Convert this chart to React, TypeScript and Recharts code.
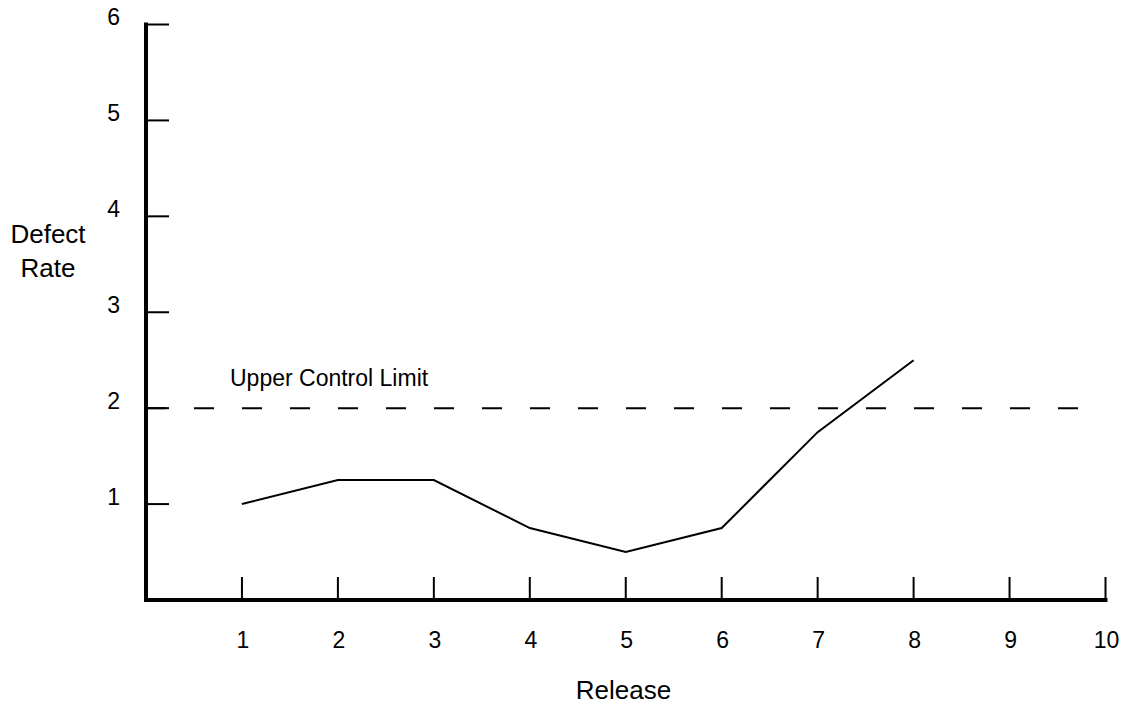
import React from "react";
import { LineChart, Line, XAxis, YAxis, ReferenceLine, Label } from "recharts";

const releases = [1, 2, 3, 4, 5, 6, 7, 8];
const defectRates = [1, 1.25, 1.25, 0.75, 0.5, 0.75, 1.75, 2.5];
const xTicks = [1, 2, 3, 4, 5, 6, 7, 8, 9, 10];
const yTicks = [1, 2, 3, 4, 5, 6];
const UCL = 2;
const UCL_START = 0;
const UCL_END = 9.73;
const UCL_LABEL = "Upper Control Limit";
const X_LABEL = "Release";
const Y_LABEL_LINES = ["Defect", "Rate"];

const FONT = "'Liberation Sans', Arial, Helvetica, sans-serif";

const data = releases.map((r, i) => ({ release: r, rate: defectRates[i] }));

const YTick = (props: any) => {
  const { x, y, payload } = props;
  return (
    <g>
      <line x1={x} y1={y} x2={x + 23} y2={y} stroke="#000" strokeWidth={2} />
      <text x={x - 26} y={y + 0.5} textAnchor="end" fontSize={23} fill="#000" fontFamily={FONT}>
        {payload.value}
      </text>
    </g>
  );
};

const XTick = (props: any) => {
  const { x, y, payload } = props;
  return (
    <g>
      <line x1={x} y1={y} x2={x} y2={y - 23} stroke="#000" strokeWidth={2} />
      <text x={x + 1} y={y + 48} textAnchor="middle" fontSize={23} fill="#000" fontFamily={FONT}>
        {payload.value}
      </text>
    </g>
  );
};

const YLabel = () => (
  <text textAnchor="middle" fontSize={26} fill="#000" fontFamily={FONT}>
    <tspan x={48} y={243}>{Y_LABEL_LINES[0]}</tspan>
    <tspan x={48} y={277}>{Y_LABEL_LINES[1]}</tspan>
  </text>
);

const XLabel = () => (
  <text x={623.5} y={699} textAnchor="middle" fontSize={26} fill="#000" fontFamily={FONT}>
    {X_LABEL}
  </text>
);

const UclLabel = () => (
  <text x={230} y={386} textAnchor="start" fontSize={23} fill="#000" fontFamily={FONT}>
    {UCL_LABEL}
  </text>
);

export default function App() {
  return (
    <div style={{ width: 1130, height: 708, background: "#fff", marginTop: -8, marginLeft: -8 }}>
      <LineChart
        width={1130}
        height={708}
        data={data}
        margin={{ top: 24.5, right: 24.5, bottom: 8, left: 0 }}
      >
        <XAxis
          dataKey="release"
          type="number"
          domain={[0, 10]}
          ticks={xTicks}
          interval={0}
          height={100}
          tickSize={0}
          tickMargin={0}
          tickLine={false}
          tick={<XTick />}
          axisLine={{ stroke: "#000", strokeWidth: 4, strokeLinecap: "square" }}
        >
          <Label content={<XLabel />} />
        </XAxis>
        <YAxis
          type="number"
          domain={[0, 6]}
          ticks={yTicks}
          interval={0}
          width={146}
          tickSize={0}
          tickMargin={0}
          tickLine={false}
          tick={<YTick />}
          axisLine={{ stroke: "#000", strokeWidth: 4, strokeLinecap: "square" }}
        >
          <Label content={<YLabel />} />
        </YAxis>
        <ReferenceLine
          segment={[
            { x: UCL_START, y: UCL },
            { x: UCL_END, y: UCL },
          ]}
          stroke="#000"
          strokeWidth={2}
          strokeDasharray="20 28"
          label={<UclLabel />}
        />
        <Line
          type="linear"
          dataKey="rate"
          stroke="#000"
          strokeWidth={2}
          dot={false}
          activeDot={false}
          isAnimationActive={false}
        />
      </LineChart>
    </div>
  );
}
